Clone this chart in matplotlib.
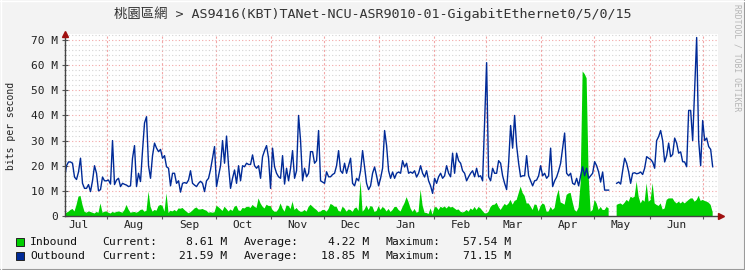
import numpy as np
import pandas as pd
import matplotlib
matplotlib.use('Agg')
import matplotlib.pyplot as plt
import matplotlib.dates as mdates
from matplotlib.ticker import MultipleLocator, FuncFormatter, NullFormatter
from matplotlib.patches import Rectangle
from matplotlib.lines import Line2D

nan = np.nan

# daily-ish samples (Mbit/s), Jul 2023 -> Jul 2024
outbound = [
    15, 20, 21.5, 21.5, 21, 15.5, 14.5, 17.5, 23, 13, 11, 11, 12.5, 9.7, 14, 20, 17, 10, 10.5, 15.5,
    14, 14, 14.3, 12.7, 30, 12.5, 14.3, 15, 11.7, 13, 12.6, 12.3, 11.7, 12, 23, 28, 11.7, 17, 13.7, 26,
    37, 39.5, 20, 15, 24, 29, 27,
    25.6, 26.5, 23, 24, 19.6, 19, 12, 17, 17, 13, 14, 9.5, 13, 13.3, 13, 14.3, 18, 13, 12.3, 11.7,
    13, 13.8, 13, 9.7, 14, 15, 18.5, 23, 27.6, 11.7, 16, 20, 30, 21, 31.8, 20, 11, 15, 18.3, 13,
    20, 14, 20, 19.6, 21, 20.5,
    20.5, 24.3, 20, 19, 20, 15, 23.6, 26, 28, 23, 11, 27, 19.6, 17, 15.6, 15, 24, 12.7, 19, 14,
    19, 26, 15, 18, 40, 30, 14, 19, 15.6, 17, 25.6, 25.6, 21, 22, 34, 14, 13.5, 13, 17.6, 15.6,
    15.6, 16.5, 17, 20, 26, 18, 17,
    21, 17, 20, 23, 13, 12, 15, 14, 18, 26, 19.5, 13, 10.5, 12, 17, 19.5, 16, 12, 15, 19,
    34, 28, 18, 15, 17.5, 15, 17, 17.5, 17, 22, 19.5, 21, 17, 17.5, 17, 18, 15.5, 17, 20, 17,
    15.5, 18, 14, 12, 9, 15,
    13, 15.6, 17, 15, 16, 20, 17, 15.6, 25, 17, 25, 22, 21, 18, 17, 14, 15.6, 17, 18, 15.6,
    19, 15.6, 16, 14, 38, 61, 15.6, 14, 19, 17, 17, 22, 21, 16, 13, 10.5, 21, 36, 27, 40,
    28, 21, 15.6, 16, 16, 24, 16,
    14, 12, 14, 14.3, 16, 20, 16, 17, 15, 16, 27, 11.7, 14, 15.5, 18, 21, 27, 33, 17, 16,
    17, 13, 12.5, 15, 12, 16, 19.6, 16, 19, 15, 16, 17, 21.6, 20, 17.5, 13.5, 17.5, 10.3, 10.3, 10.3,
    nan, nan, nan, 13, 13.5, 12.7,
    18, 23, 21, 17.6, 13, 17, 17.2, 16.8, 17, 17.5, 16.5, 19, 23.6, 23, 22.5, 21.5, 19, 30, 31.6, 34,
    30, 21.5, 24, 29, 23.6, 24.5, 31, 29, 25, 25.5, 21.6, 21.5, 19.6, 42, 42, 30, 50, 71, 30, 20,
    38, 30, 31, 27.6, 26.5, 19.6,
]

inbound = [
    0.8, 1.3, 1.7, 2.4, 2.8, 1.8, 4.4, 7.7, 8, 4.4, 1.7, 1.3, 1.8, 1.6, 1.3, 1.0, 1.6, 1.3, 5, 1.3,
    1.7, 1.8, 1.3, 1.0, 1.6, 1.3, 1.6, 1.8, 1.6, 1.3, 2.4, 4.4, 2.6, 1.3, 1.5, 1.6, 1.3, 1.7, 2.4, 2.6,
    1.7, 2.1, 9.7, 3.7, 1.7, 2.4, 2.1,
    4, 4.4, 4, 1.7, 9, 1.2, 2.1, 1.8, 2.4, 1.8, 3.0, 2.9, 3.2, 2.4, 1.7, 1.1, 1.5, 2.2, 3.0, 3.4,
    2.6, 2.6, 2.8, 2.4, 2.1, 1.3, 1.5, 1.3, 1.5, 4.1, 3.5, 2.8, 2.0, 3.7, 2.8, 1.8, 2.6, 2.0, 3.7, 4.1,
    2.2, 2.0, 3.2, 3.0, 3.6, 3.7,
    3.2, 4.4, 3.7, 3.2, 7, 5, 3.7, 3.0, 4.5, 4, 4, 2.4, 1.7, 1.7, 2.8, 5, 3.0, 1.7, 4.2, 4.0,
    2.8, 5.7, 2.4, 3.2, 2.2, 1.7, 1.7, 2.4, 1.7, 3.6, 4.5, 3.7, 3.0, 2.4, 1.5, 1.8, 2.4, 2.4, 1.7, 2.8,
    4.8, 4.4, 3.7, 3.7, 2.0, 1.7, 3.7,
    3.0, 1.7, 2.6, 2.4, 1.6, 3.0, 3.4, 2.0, 14, 1.7, 2.6, 4.2, 2.4, 4.0, 3.6, 1.6, 2.0, 3.9, 2.4, 3.6,
    3.0, 1.8, 2.8, 1.6, 2.4, 3.6, 3.6, 2.4, 1.8, 3.6, 5.2, 7.5, 5.5, 3.0, 1.6, 2.8, 1.3, 1.7, 10.5, 4.2,
    1.3, 1.2, 0.8, 3.0, 0.5, 3.5,
    3.5, 2.4, 3.7, 3.2, 3.8, 3.0, 3.9, 3.4, 3.6, 3.0, 2.4, 2.6, 1.7, 1.4, 1.7, 2.4, 1.7, 3.0, 2.4, 3.6,
    2.4, 3.6, 3.0, 2.0, 1.1, 1.0, 1.7, 3.6, 4.4, 4.5, 5.3, 3.6, 2.4, 3.6, 4.8, 4.2, 5.0, 6.4, 4.5, 6.0,
    6.4, 9, 11.7, 9.2, 8, 5.0, 5.0,
    3.8, 2.4, 4.6, 4.4, 1.8, 4, 5.0, 4.5, 1.7, 1.8, 3.6, 2.4, 3.2, 7.7, 10.5, 5.4, 5.0, 4.5, 8.4, 9,
    9.2, 5.5, 2.4, 1.7, 3.4, 13, 57.5, 56.5, 54.8, 16, 1.7, 2.4, 6.4, 5.0, 2.4, 3.6, 2.4, 2.4, 3.6, 3.0,
    nan, nan, nan, 4.4, 4.8, 5.0,
    4.4, 5.3, 6.4, 5.7, 7.7, 7.2, 7.7, 13.7, 7.7, 5.0, 6.4, 5.7, 13, 5.7, 6.4, 13, 5.0, 4.4, 4.0, 5.0,
    2.6, 3.0, 6.4, 7.0, 7.0, 7.0, 5.7, 5.0, 5.7, 5.0, 5.7, 5.0, 5.7, 6.4, 7.0, 7.0, 5.7, 6.4, 8.0, 6.0,
    6.4, 6.0, 5.7, 5.3, 4.4, 1.5,
]

title = '桃園區網 > AS9416(KBT)TANet-NCU-ASR9010-01-GigabitEthernet0/5/0/15'
series_names = ['Inbound', 'Outbound']
current = ['8.61 M', '21.59 M']
average = ['4.22 M', '18.85 M']
maximum = ['57.54 M', '71.15 M']
colors = ['#00CF00', '#002A97']

times = pd.date_range('2023-07-08', periods=len(outbound), freq='27h')
x_end = pd.Timestamp('2023-07-08') + pd.Timedelta(days=367.5)

MONO = ['DejaVu Sans Mono', 'Noto Sans CJK TC']
W, H = 745, 270

fig = plt.figure(figsize=(W / 100, H / 100), dpi=100, facecolor='#F3F3F3')
ax = fig.add_axes([64.5 / W, (H - 216) / H, (718 - 64.5) / W, (216 - 34) / H])
ax.set_facecolor('white')

# data
ax.fill_between(times, 0, inbound, color=colors[0], linewidth=0, zorder=3)
ax.plot(times, outbound, color=colors[1], linewidth=1.0, zorder=4)

ax.set_xlim(times[0], x_end)
ax.set_ylim(0, 72.4)

# y axis grid / labels
ax.yaxis.set_major_locator(MultipleLocator(10))
ax.yaxis.set_minor_locator(MultipleLocator(2))
ax.yaxis.set_major_formatter(FuncFormatter(lambda v, p: '0' if v == 0 else '%d M' % v))
ax.yaxis.grid(True, which='major', color='#F2A6A6', linestyle=(0, (1, 2)), linewidth=0.8, zorder=1)
ax.yaxis.grid(True, which='minor', color='#D4D4D4', linestyle=(0, (1, 2)), linewidth=0.8, zorder=1)

# x axis: month starts get grid lines, labels sit mid-month
ax.xaxis.set_major_locator(mdates.MonthLocator(bymonthday=1))
ax.xaxis.set_major_formatter(NullFormatter())
ax.xaxis.set_minor_locator(mdates.MonthLocator(bymonthday=16))
ax.xaxis.set_minor_formatter(mdates.DateFormatter('%b'))
ax.xaxis.grid(True, which='major', color='#F2A6A6', linestyle=(0, (2, 2)), linewidth=0.8, zorder=1)

ax.tick_params(axis='y', which='major', direction='inout', length=4, width=0.8, color='#555555',
               labelsize=8, pad=2.5, labelcolor='#222222')
ax.tick_params(axis='y', which='minor', direction='inout', length=2, width=0.6, color='#888888')
ax.tick_params(axis='x', which='major', direction='inout', length=4, width=0.8, color='#555555')
ax.tick_params(axis='x', which='minor', length=0, labelsize=8, pad=3, labelcolor='#222222')
for lab in ax.get_xticklabels(which='both') + ax.get_yticklabels():
    lab.set_fontfamily(MONO)

for s in ['top', 'right']:
    ax.spines[s].set_visible(False)
for s in ['left', 'bottom']:
    ax.spines[s].set_color('#444444')
    ax.spines[s].set_linewidth(1.0)
    ax.spines[s].set_zorder(5)

# little red arrow heads
ax.plot([0], [1.0], marker='^', color='#A01010', markersize=4, transform=ax.transAxes, clip_on=False, zorder=6)
ax.plot([1.0 + 3 / 653], [0], marker='>', color='#A01010', markersize=4, transform=ax.transAxes, clip_on=False, zorder=6)

# texts
fig.text(372.5 / W, 1 - 14 / H, title, ha='center', va='center', fontsize=9.6, family=MONO, color='#333333')
fig.text(11 / W, 1 - 126 / H, 'bits per second', rotation=90, ha='center', va='center', fontsize=7,
         family=MONO, color='#222222')
fig.text(737 / W, 1 - 4 / H, 'RRDTOOL / TOBI OETIKER', rotation=270, ha='center', va='top', fontsize=5.8,
         family=MONO, color='#B5B5B5')

# legend rows
for i, name in enumerate(series_names):
    yc = 242 + 14 * i
    fig.patches.append(Rectangle((15.5 / W, 1 - (yc + 4) / H), 8 / W, 8 / H, transform=fig.transFigure,
                                 facecolor=colors[i], edgecolor='#222222', linewidth=0.7))
    yy = 1 - yc / H
    kw = dict(va='center', fontsize=8.2, family=MONO, color='#111111')
    fig.text(30 / W, yy, name, ha='left', **kw)
    fig.text(102 / W, yy, 'Current:', ha='left', **kw)
    fig.text(227 / W, yy, current[i], ha='right', **kw)
    fig.text(243.5 / W, yy, 'Average:', ha='left', **kw)
    fig.text(369.5 / W, yy, average[i], ha='right', **kw)
    fig.text(385 / W, yy, 'Maximum:', ha='left', **kw)
    fig.text(511.5 / W, yy, maximum[i], ha='right', **kw)

# 3d-ish outer frame
fig.lines.append(Line2D([0, 1], [0.5 / H, 0.5 / H], transform=fig.transFigure, color='#9A9A9A', linewidth=1.5))
fig.lines.append(Line2D([1 - 0.5 / W, 1 - 0.5 / W], [0, 1], transform=fig.transFigure, color='#9A9A9A', linewidth=1.5))
fig.lines.append(Line2D([0, 1], [1 - 0.5 / H, 1 - 0.5 / H], transform=fig.transFigure, color='#FFFFFF', linewidth=1.0))
fig.lines.append(Line2D([0.5 / W, 0.5 / W], [0, 1], transform=fig.transFigure, color='#FFFFFF', linewidth=1.0))

fig.savefig('out.png', dpi=100, facecolor=fig.get_facecolor())
